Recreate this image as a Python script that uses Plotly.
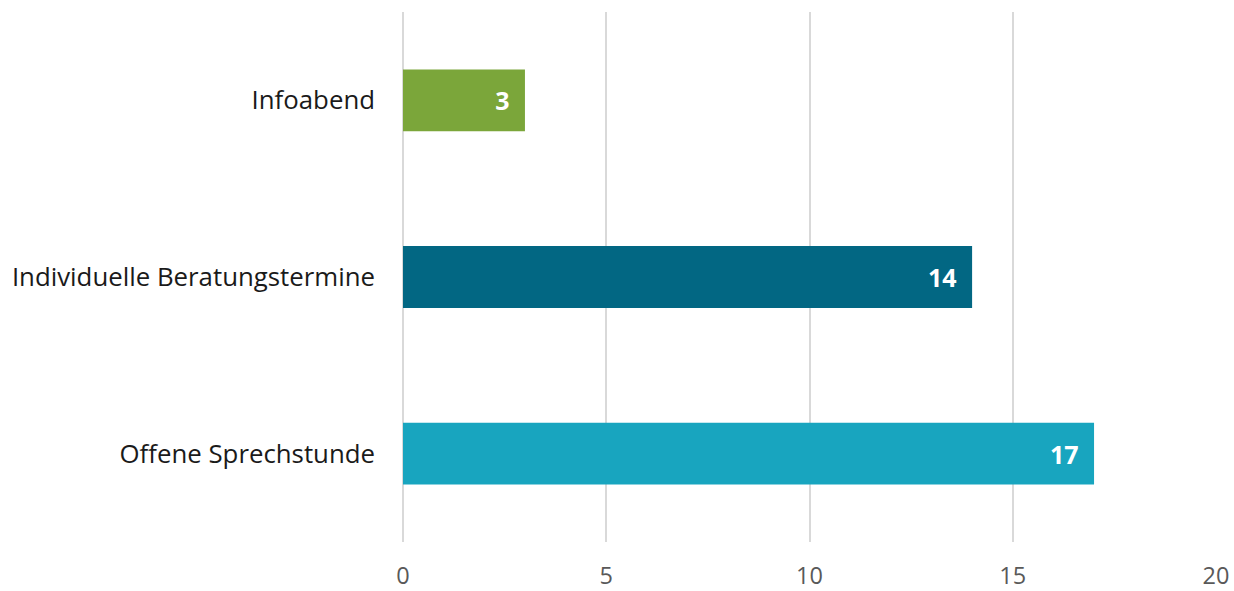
import plotly.graph_objects as go

categories = ["Infoabend", "Individuelle Beratungstermine", "Offene Sprechstunde"]
values = [3, 14, 17]
colors = ["#7BA63A", "#026783", "#18A5BF"]
x_ticks = [0, 5, 10, 15, 20]

fig = go.Figure(go.Bar(
    y=categories, x=values, orientation="h",
    marker=dict(color=colors, line=dict(width=0)),
    width=0.35,
    text=[f"{v}\u2002" for v in values], textposition="inside", insidetextanchor="end",
    textfont=dict(family="Open Sans", size=25, color="white", weight="bold"),
    cliponaxis=False,
))

fig.update_layout(
    width=1234, height=591,
    margin=dict(l=403, r=18, t=12, b=49, autoexpand=False),
    plot_bgcolor="white", paper_bgcolor="white",
    showlegend=False,
    font=dict(family="Open Sans"),
    uniformtext=dict(minsize=25, mode="show"),
)
fig.update_xaxes(
    range=[0, 20], tickvals=x_ticks, showgrid=True, gridcolor="#D9D9D9", gridwidth=2,
    zeroline=True, zerolinecolor="#D9D9D9", zerolinewidth=2,
    tickfont=dict(size=23.5, color="#595959"), ticklabelstandoff=17,
    showline=False, automargin=False,
)
fig.update_yaxes(
    autorange="reversed", tickfont=dict(size=25.8, color="#1A1A1A"),
    ticklabelstandoff=27, showline=False, showgrid=False, automargin=False,
)
fig.write_html("out.html", config={"displayModeBar": False},
               post_script="document.body.style.margin='0';")
